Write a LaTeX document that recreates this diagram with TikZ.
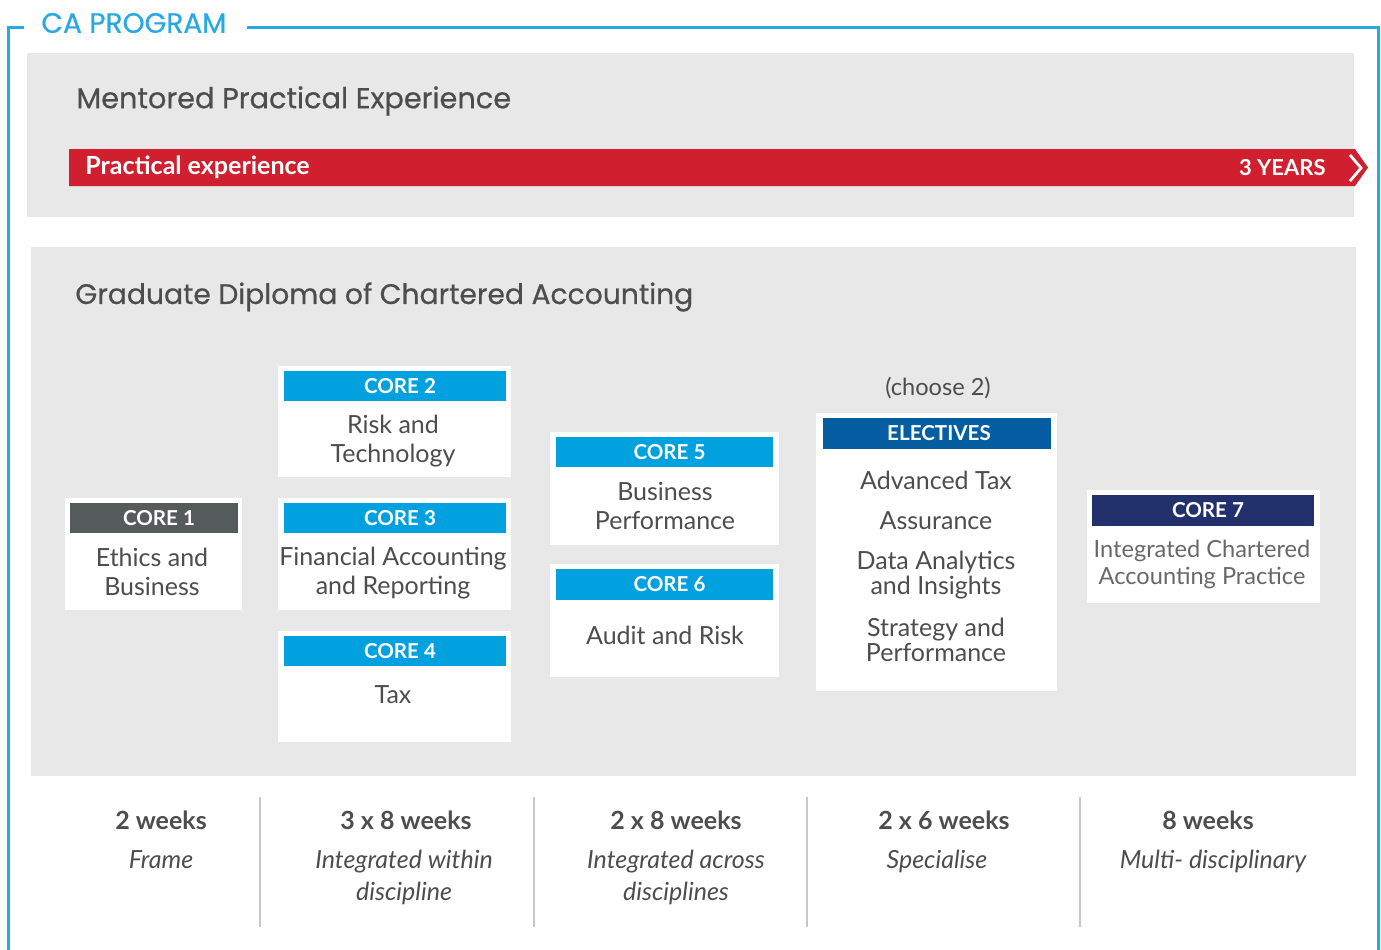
\documentclass[tikz,border=0pt]{standalone}
\usepackage{fontspec}
\setmainfont{Lato}
\newfontfamily\titlefont[FakeBold=0.6]{Poppins}
\usetikzlibrary{fit}
\definecolor{frameblue}{HTML}{29A9E1}
\definecolor{panelgray}{HTML}{E8E8E8}
\definecolor{barred}{HTML}{D0202F}
\definecolor{coreblue}{HTML}{00A1DE}
\definecolor{coregray}{HTML}{555A5A}
\definecolor{elecblue}{HTML}{055EA2}
\definecolor{navy}{HTML}{22316C}
\definecolor{textgray}{HTML}{4D4D4D}
\definecolor{sepgray}{HTML}{C8C8C8}
\begin{document}
\begin{tikzpicture}[x=0.5pt,y=-0.5pt,
  panel/.style={fill=panelgray, inner sep=0pt},
  card/.style={fill=white, inner sep=0pt},
  hdr/.style={inner sep=0pt, text=white, font=\fontsize{10.3}{12}\selectfont\bfseries},
  body/.style={text=textgray, align=center, inner sep=0pt, font=\fontsize{12.5}{14.5}\selectfont},
  dur/.style={text=textgray, inner sep=0pt, font=\fontsize{12.5}{14}\selectfont\bfseries},
  note/.style={text=textgray, align=center, inner sep=0pt, font=\fontsize{12.5}{16}\selectfont\itshape},
  sep/.style={draw=sepgray, line width=1pt},
  ttl/.style={text=textgray, anchor=west, inner sep=0pt, font=\fontsize{14.4}{16}\titlefont}
]
\useasboundingbox (0,0) rectangle (1381,949);
% outer frame
\node[inner sep=0pt, text=frameblue, anchor=west, font=\fontsize{14}{16}\titlefont] (catitle) at (41,23) {CA PROGRAM};
\draw[frameblue, line width=1.5pt] (24,27) -- (8,27) -- (8,960);
\draw[frameblue, line width=1.5pt] (247,27) -- (1378,27) -- (1378,960);
% panel 1
\node[panel, fit={(27,53) (1354,217)}] (p1) {};
\node[ttl] (t1) at (76,101) {Mentored Practical Experience};
\fill[barred] (69,149) -- (1355,149) -- (1368,167.5) -- (1355,186) -- (69,186) -- cycle;
\node[inner sep=0pt, anchor=west, text=white, font=\fontsize{12.5}{14}\selectfont\bfseries] (pe) at (85,167.5) {Practical experience};
\node[inner sep=0pt, anchor=east, text=white, font=\fontsize{11}{14}\selectfont\bfseries] (yrs) at (1326,168) {3 YEARS};
\coordinate (chA) at (1350,155);
\coordinate (chB) at (1361,168);
\coordinate (chC) at (1350,181);
\draw[white, line width=1.4pt] (chA) -- (chB) -- (chC);
% panel 2
\node[panel, fit={(31,247) (1356,776)}] (p2) {};
\node[ttl, font=\fontsize{14.1}{16}\titlefont] (t2) at (75,297) {Graduate Diploma of Chartered Accounting};
% core 1
\node[card, fit={(65,498) (242,610)}] (c1) {};
\node[hdr, fill=coregray, fit={(70,503) (238,533)}] (c1h) {};
\node[hdr] at ([xshift=2.5pt]c1h.center) {CORE 1};
\node[body] (c1t) at (152,572) {Ethics and\\Business};
% core 2
\node[card, fit={(278,366) (511,477)}] (c2) {};
\node[hdr, fill=coreblue, fit={(284,371) (506,401)}] (c2h) {};
\node[hdr] at ([xshift=2.5pt]c2h.center) {CORE 2};
\node[body] (c2t) at (393,441) {Risk and\\Technology};
% core 3
\node[card, fit={(278,498) (511,610)}] (c3) {};
\node[hdr, fill=coreblue, fit={(284,503) (506,533)}] (c3h) {};
\node[hdr] at ([xshift=2.5pt]c3h.center) {CORE 3};
\node[body] (c3t) at (393,573) {Financial Accounting\\and Reporting};
% core 4
\node[card, fit={(278,631) (511,742)}] (c4) {};
\node[hdr, fill=coreblue, fit={(284,636) (506,666)}] (c4h) {};
\node[hdr] at ([xshift=2.5pt]c4h.center) {CORE 4};
\node[body] (c4t) at (393,695) {Tax};
% core 5
\node[card, fit={(550,432) (779,545)}] (c5) {};
\node[hdr, fill=coreblue, fit={(556,437) (773,467)}] (c5h) {};
\node[hdr] at ([xshift=2.5pt]c5h.center) {CORE 5};
\node[body] (c5t) at (665,506) {Business\\Performance};
% core 6
\node[card, fit={(550,564) (779,677)}] (c6) {};
\node[hdr, fill=coreblue, fit={(556,569) (773,600)}] (c6h) {};
\node[hdr] at ([xshift=2.5pt]c6h.center) {CORE 6};
\node[body] (c6t) at (665,635) {Audit and Risk};
% electives
\node[body, font=\fontsize{11.8}{14}\selectfont] (ch2) at (938,388) {(choose 2)};
\node[card, fit={(816,413) (1057,691)}] (el) {};
\node[hdr, fill=elecblue, fit={(823,418) (1051,449)}] (elh) {};
\node[hdr] at ([xshift=1pt]elh.center) {ELECTIVES};
\node[body] (e1) at (936,480) {Advanced Tax};
\node[body] (e2) at (936,521) {Assurance};
\node[body, font=\fontsize{12.5}{12.5}\selectfont] (e3) at (936,575) {Data Analytics\\and Insights};
\node[body, font=\fontsize{12.5}{12.5}\selectfont] (e4) at (936,640) {Strategy and\\Performance};
% core 7
\node[card, fit={(1087,490) (1320,603)}] (c7) {};
\node[hdr, fill=navy, fit={(1092,495) (1314,526)}] (c7h) {};
\node[hdr] at ([xshift=2.5pt]c7h.center) {CORE 7};
\node[body, text=textgray!85, font=\fontsize{11.8}{13.5}\selectfont] (c7t) at (1202,564) {Integrated Chartered\\Accounting Practice};
% bottom
\coordinate (s1a) at (260,797); \coordinate (s1b) at (260,927);
\coordinate (s2a) at (534,797); \coordinate (s2b) at (534,927);
\coordinate (s3a) at (807,797); \coordinate (s3b) at (807,927);
\coordinate (s4a) at (1080,797); \coordinate (s4b) at (1080,927);
\draw[sep] (s1a) -- (s1b);
\draw[sep] (s2a) -- (s2b);
\draw[sep] (s3a) -- (s3b);
\draw[sep] (s4a) -- (s4b);
\node[dur] (d1) at (161,820) {2 weeks};
\node[dur] (d2) at (406,820) {3 x 8 weeks};
\node[dur] (d3) at (676,820) {2 x 8 weeks};
\node[dur] (d4) at (944,820) {2 x 6 weeks};
\node[dur] (d5) at (1208,820) {8 weeks};
\node[note, anchor=north] (n1) at (161,850) {Frame};
\node[note, anchor=north] (n2) at (404,850) {Integrated within\\discipline};
\node[note, anchor=north] (n3) at (676,850) {Integrated across\\disciplines};
\node[note, anchor=north] (n4) at (937,850) {Specialise};
\node[note, anchor=north] (n5) at (1213,850) {Multi- disciplinary};
\end{tikzpicture}
\end{document}
